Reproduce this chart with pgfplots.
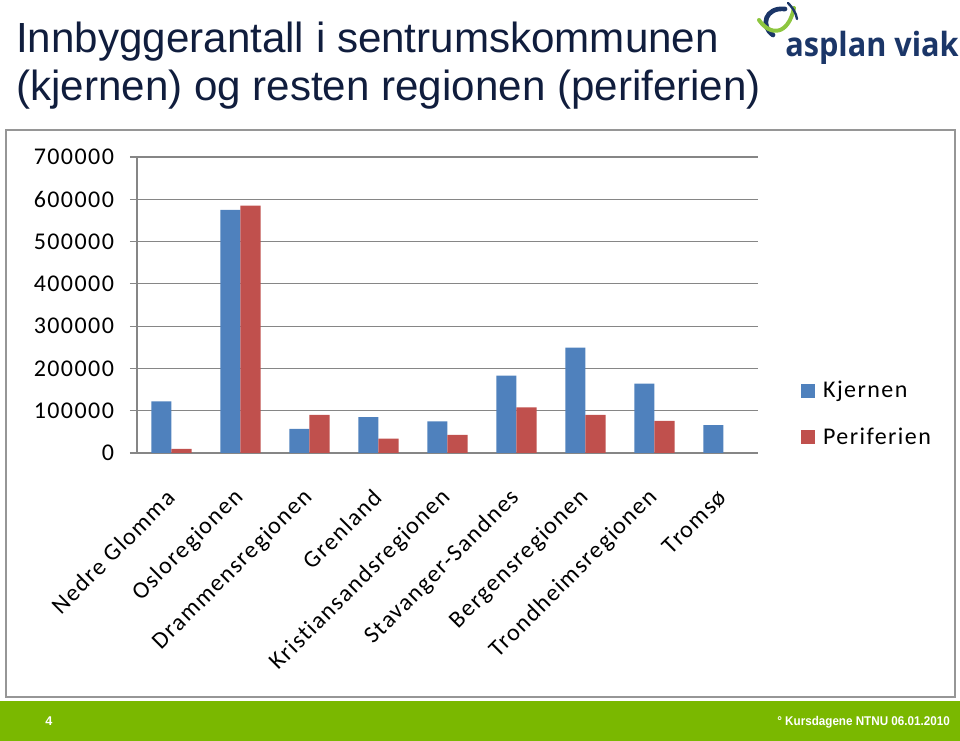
\documentclass[border=0pt]{standalone}
\usepackage{fontspec}
\usepackage{pgfplots}
\pgfplotsset{compat=1.18}
\setmainfont{Liberation Sans}
\newfontfamily\calib{Carlito}[LetterSpace=6,Ligatures={NoCommon}]
\newfontfamily\logofont{Open Sans}
\definecolor{kjblue}{RGB}{79,129,189}
\definecolor{pered}{RGB}{192,80,77}
\definecolor{gridgray}{RGB}{134,134,134}
\definecolor{framegray}{RGB}{150,150,150}
\definecolor{footgreen}{RGB}{122,184,0}
\definecolor{titlenavy}{RGB}{16,29,61}
\definecolor{logonavy}{RGB}{27,54,104}
\definecolor{logogreen}{RGB}{141,198,63}
\begin{document}
\begin{tikzpicture}[x=0.75pt,y=0.75pt]
\path[use as bounding box] (0,0) rectangle (960,741);
\fill[footgreen] (0,0) rectangle (960,40);
\draw[framegray, line width=1pt] (6,44) rectangle (955,611);
\node[anchor=base west, inner sep=0pt, font=\fontsize{31.6pt}{36pt}\selectfont, text=titlenavy] at (16,688) {Innbyggerantall i sentrumskommunen};
\node[anchor=base west, inner sep=0pt, font=\fontsize{31.6pt}{36pt}\selectfont, text=titlenavy] at (16,640) {(kjernen) og resten regionen (periferien)};
% logo
\node[anchor=base west, inner sep=0pt, text=logonavy, font=\logofont\bfseries\fontsize{25pt}{30pt}\selectfont, xscale=0.92] at (785,684) {asplan viak};
\draw[logonavy, line width=3.5pt, line cap=round] (785,732) .. controls (765,734) and (760,715) .. (773,706);
\draw[logogreen, line width=3pt, line cap=round] (759,721) .. controls (770,705) and (788,705) .. (794,733);
\draw[logonavy, line width=1.8pt, line cap=round] (788,738) .. controls (793,733) and (796,728) .. (797,722);
% footer
\node[anchor=base west, inner sep=0pt, text=white, font=\bfseries\fontsize{9.5pt}{11pt}\selectfont] at (45,15) {4};
\node[anchor=base east, inner sep=0pt, text=white, font=\bfseries\fontsize{9.5pt}{11pt}\selectfont, xscale=0.92] at (950,15) {\textdegree{} Kursdagene NTNU 06.01.2010};
\begin{axis}[
  at={(102.75pt,216pt)}, anchor=south west,
  scale only axis, width=465.75pt, height=222pt,
  xmin=-0.5, xmax=8.5, ymin=0, ymax=700000,
  axis lines*=left,
  axis line style={gridgray, line width=0.9pt},
  ymajorgrids, grid style={gridgray, line width=0.9pt},
  ytick={0,100000,200000,300000,400000,500000,600000,700000},
  yticklabels={0,100000,200000,300000,400000,500000,600000,700000},
  scaled y ticks=false,
  tick align=outside,
  major tick length=5.25pt,
  tick style={gridgray, line width=0.9pt},
  xtick={0,...,8},
  x tick style={draw=none},
  minor xtick={-0.5,0.5,...,8.5},
  minor x tick style={gridgray, line width=0.9pt},
  minor tick length=5.25pt,
  xticklabels={Nedre Glomma,Osloregionen,Drammensregionen,Grenland,Kristiansandsregionen,Stavanger-Sandnes,Bergensregionen,Trondheimsregionen,Tromsø},
  xticklabel style={anchor=east, xshift=2pt, yshift=-23pt, rotate=45, font=\calib\fontsize{18pt}{21pt}\selectfont},
  yticklabel style={font=\calib\fontsize{18pt}{21pt}\selectfont, xshift=-8.5pt},
  ticklabel style={text=black},
  ybar, bar width=0.29,
  legend style={draw=none, at={(1.069,0.132)}, anchor=west, font=\calib\fontsize{18pt}{21pt}\selectfont, row sep=21pt, column sep=6pt, cells={anchor=west}, inner sep=0pt, nodes={inner sep=0pt}},
  legend image code/.code={\fill[#1] (0pt,-5.25pt) rectangle (10.5pt,5.25pt);},
]
\addplot[fill=kjblue, draw=none, bar shift=-0.145] coordinates {(0,122000) (1,575000) (2,57000) (3,85000) (4,75000) (5,183000) (6,249000) (7,164000) (8,66000)};
\addplot[fill=pered, draw=none, bar shift=0.145] coordinates {(0,10000) (1,585000) (2,90000) (3,34000) (4,43000) (5,108000) (6,90000) (7,76000)};
\legend{Kjernen,Periferien}
\end{axis}
\end{tikzpicture}
\end{document}
